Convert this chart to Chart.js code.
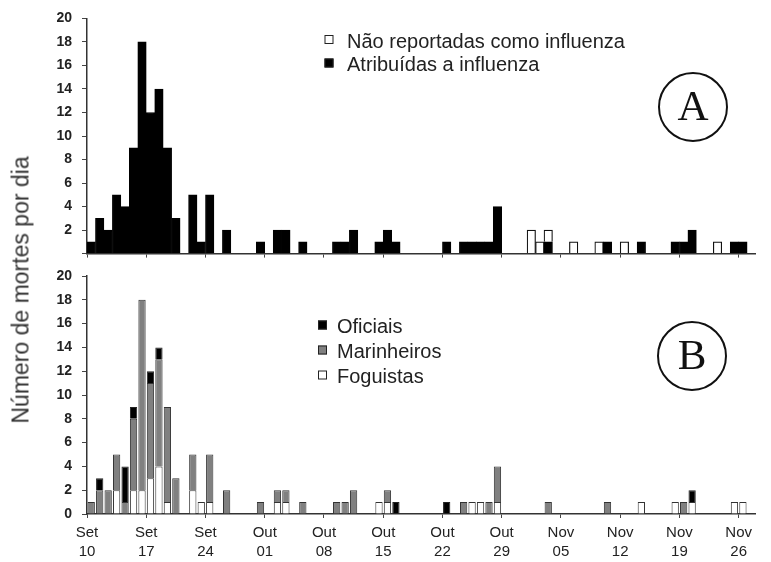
<!DOCTYPE html>
<html lang="pt">
<head>
<meta charset="utf-8">
<title>Número de mortes por dia</title>
<script src="https://cdn.jsdelivr.net/npm/chart.js@4.4.0/dist/chart.umd.min.js"></script>
<style>
  html, body { margin: 0; padding: 0; background: #fff; }
  #wrap { position: relative; width: 771px; height: 562px; overflow: hidden; }
  #chartA { position: absolute; left: 0; top: 0; }
  #chartB { position: absolute; left: 0; top: 250px; }
  #yTitle {
    position: absolute; left: 21px; top: 290px;
    transform: translate(-50%, -50%) rotate(-90deg);
    font: 23px "Liberation Sans", Arial, sans-serif; color: #333; white-space: nowrap;
  }
</style>
</head>
<body>
<div id="wrap">
  <canvas id="chartA" width="771" height="272"></canvas>
  <canvas id="chartB" width="771" height="312"></canvas>
  <div id="yTitle">Número de mortes por dia</div>
</div>
<script>
// one value per day, index 0 = Set 10, last = Nov 26
const tickLabels = ["Set 10", "Set 17", "Set 24", "Out 01", "Out 08", "Out 15",
                    "Out 22", "Out 29", "Nov 05", "Nov 12", "Nov 19", "Nov 26"];

// Panel A
const atribuidas = [
  1, 3, 2, 5, 4, 9, 18,
  12, 14, 9, 3, 0, 5, 1,
  5, 0, 2, 0, 0, 0, 1,
  0, 2, 2, 0, 1, 0, 0,
  0, 1, 1, 2, 0, 0, 1,
  2, 1, 0, 0, 0, 0, 0,
  1, 0, 1, 1, 1, 1, 4,
  0, 0, 0, 0, 0, 1, 0,
  0, 0, 0, 0, 0, 1, 0,
  0, 0, 1, 0, 0, 0, 1,
  1, 2, 0, 0, 0, 0, 1,
  1
];
const naoReportadas = [
  0, 0, 0, 0, 0, 0, 0,
  0, 0, 0, 0, 0, 0, 0,
  0, 0, 0, 0, 0, 0, 0,
  0, 0, 0, 0, 0, 0, 0,
  0, 0, 0, 0, 0, 0, 0,
  0, 0, 0, 0, 0, 0, 0,
  0, 0, 0, 0, 0, 0, 0,
  0, 0, 0, 2, 1, 1, 0,
  0, 1, 0, 0, 1, 0, 0,
  1, 0, 0, 0, 0, 0, 0,
  0, 0, 0, 0, 1, 0, 0,
  0
];

// Panel B
const oficiais = [
  0, 1, 0, 0, 3, 1, 0,
  1, 1, 0, 0, 0, 0, 0,
  0, 0, 0, 0, 0, 0, 0,
  0, 0, 0, 0, 0, 0, 0,
  0, 0, 0, 0, 0, 0, 0,
  0, 1, 0, 0, 0, 0, 0,
  1, 0, 0, 0, 0, 0, 0,
  0, 0, 0, 0, 0, 0, 0,
  0, 0, 0, 0, 0, 0, 0,
  0, 0, 0, 0, 0, 0, 0,
  0, 1, 0, 0, 0, 0, 0,
  0
];
const marinheiros = [
  1, 2, 2, 3, 1, 6, 16,
  8, 9, 8, 3, 0, 3, 0,
  4, 0, 2, 0, 0, 0, 1,
  0, 1, 1, 0, 1, 0, 0,
  0, 1, 1, 2, 0, 0, 0,
  1, 0, 0, 0, 0, 0, 0,
  0, 0, 1, 0, 0, 1, 3,
  0, 0, 0, 0, 0, 1, 0,
  0, 0, 0, 0, 0, 1, 0,
  0, 0, 0, 0, 0, 0, 0,
  1, 0, 0, 0, 0, 0, 0,
  0
];
const foguistas = [
  0, 0, 0, 2, 0, 2, 2,
  3, 4, 1, 0, 0, 2, 1,
  1, 0, 0, 0, 0, 0, 0,
  0, 1, 1, 0, 0, 0, 0,
  0, 0, 0, 0, 0, 0, 1,
  1, 0, 0, 0, 0, 0, 0,
  0, 0, 0, 1, 1, 0, 1,
  0, 0, 0, 0, 0, 0, 0,
  0, 0, 0, 0, 0, 0, 0,
  0, 0, 1, 0, 0, 0, 1,
  0, 1, 0, 0, 0, 0, 1,
  1
];

const DAYS = atribuidas.length + 1;
const FONT = '"Liberation Sans", Arial, Helvetica, sans-serif';
Chart.defaults.font.family = FONT;

// bar for day i sits between tick i and i+1
function toPoints(arr) {
  return arr.map((v, i) => ({ x: i + 0.5, y: v === 0 ? null : v }));
}

function xScale(showLabels) {
  return {
    type: "linear",
    stacked: true,
    offset: false,
    min: 0,
    max: DAYS,
    afterBuildTicks: (s) => { s.ticks = tickLabels.map((_, i) => ({ value: i * 7 })); },
    afterFit: (s) => { s.height = showLabels ? 48 : 9.5; },
    ticks: {
      display: showLabels,
      autoSkip: false,
      maxRotation: 0,
      padding: 6,
      color: "#222",
      font: { size: 15, lineHeight: 1.23 },
      callback: (v) => tickLabels[Math.round(v / 7)].split(" ")
    },
    grid: { offset: false, drawOnChartArea: false, tickLength: 4, color: "#444" },
    border: { color: "#333", width: 1.5 }
  };
}

function yScale(showZero) {
  return {
    stacked: true,
    min: 0,
    max: 20,
    afterFit: (s) => { s.width = 87; },
    ticks: {
      stepSize: 2,
      padding: 10,
      color: "#222",
      font: { size: 14, weight: "bold" },
      callback: (v) => (v === 0 && !showZero ? "" : v)
    },
    grid: { drawOnChartArea: false, tickLength: 5, color: "#444" },
    border: { color: "#333", width: 1.5 }
  };
}

// legend boxes + circled panel letter
const panelDecor = {
  id: "panelDecor",
  afterDraw(chart, args, o) {
    const ctx = chart.ctx;
    ctx.save();
    ctx.font = "20px " + FONT;
    ctx.textBaseline = "alphabetic";
    o.order.forEach((di, row) => {
      const ds = chart.data.datasets[di];
      const cy = o.y + row * o.rowH;
      ctx.fillStyle = ds.backgroundColor;
      ctx.fillRect(o.x, cy - 4.5, 9, 9);
      ctx.strokeStyle = "#222";
      ctx.lineWidth = 1;
      ctx.strokeRect(o.x + 0.5, cy - 4, 8, 8);
      ctx.fillStyle = "#222";
      ctx.fillText(ds.label, o.textX, cy + 8);
    });
    ctx.beginPath();
    ctx.arc(o.cx, o.cy, 34, 0, Math.PI * 2);
    ctx.lineWidth = 2;
    ctx.strokeStyle = "#111";
    ctx.stroke();
    ctx.fillStyle = "#111";
    ctx.font = '43px "Liberation Serif", "Times New Roman", serif';
    ctx.textAlign = "center";
    ctx.textBaseline = "middle";
    ctx.fillText(o.letter, o.cx, o.cy + 2);
    ctx.restore();
  }
};

const chartA = new Chart(document.getElementById("chartA"), {
  type: "bar",
  data: {
    datasets: [
      { label: "Atribuídas a influenza", data: toPoints(atribuidas),
        backgroundColor: "#000", borderColor: "#000", borderWidth: 1,
        barPercentage: 1, categoryPercentage: 1 },
      { label: "Não reportadas como influenza", data: toPoints(naoReportadas),
        backgroundColor: "#fff", borderColor: "#111", borderWidth: 1.2,
        barPercentage: 1, categoryPercentage: 1 }
    ]
  },
  options: {
    responsive: false,
    animation: false,
    events: [],
    layout: { padding: { top: 16, right: 15.4, bottom: 0, left: 0 } },
    scales: { x: xScale(false), y: yScale(false) },
    plugins: {
      legend: { display: false },
      tooltip: { enabled: false },
      panelDecor: { order: [1, 0], x: 324.5, y: 39.5, rowH: 23.5, textX: 347,
                    cx: 693, cy: 107, letter: "A" }
    }
  },
  plugins: [panelDecor]
});

const chartB = new Chart(document.getElementById("chartB"), {
  type: "bar",
  data: {
    datasets: [
      { label: "Foguistas", data: toPoints(foguistas),
        backgroundColor: "#fff", borderColor: "#333", borderWidth: 1,
        barPercentage: 0.86, categoryPercentage: 1 },
      { label: "Marinheiros", data: toPoints(marinheiros),
        backgroundColor: "#808080", borderColor: "#333", borderWidth: 1,
        barPercentage: 0.86, categoryPercentage: 1 },
      { label: "Oficiais", data: toPoints(oficiais),
        backgroundColor: "#000", borderColor: "#222", borderWidth: 1,
        barPercentage: 0.86, categoryPercentage: 1 }
    ]
  },
  options: {
    responsive: false,
    animation: false,
    events: [],
    layout: { padding: { top: 26, right: 15.4, bottom: 0, left: 0 } },
    scales: { x: xScale(true), y: yScale(true) },
    plugins: {
      legend: { display: false },
      tooltip: { enabled: false },
      panelDecor: { order: [2, 1, 0], x: 318, y: 75, rowH: 25, textX: 337,
                    cx: 692, cy: 106, letter: "B" }
    }
  },
  plugins: [panelDecor]
});
</script>
</body>
</html>
